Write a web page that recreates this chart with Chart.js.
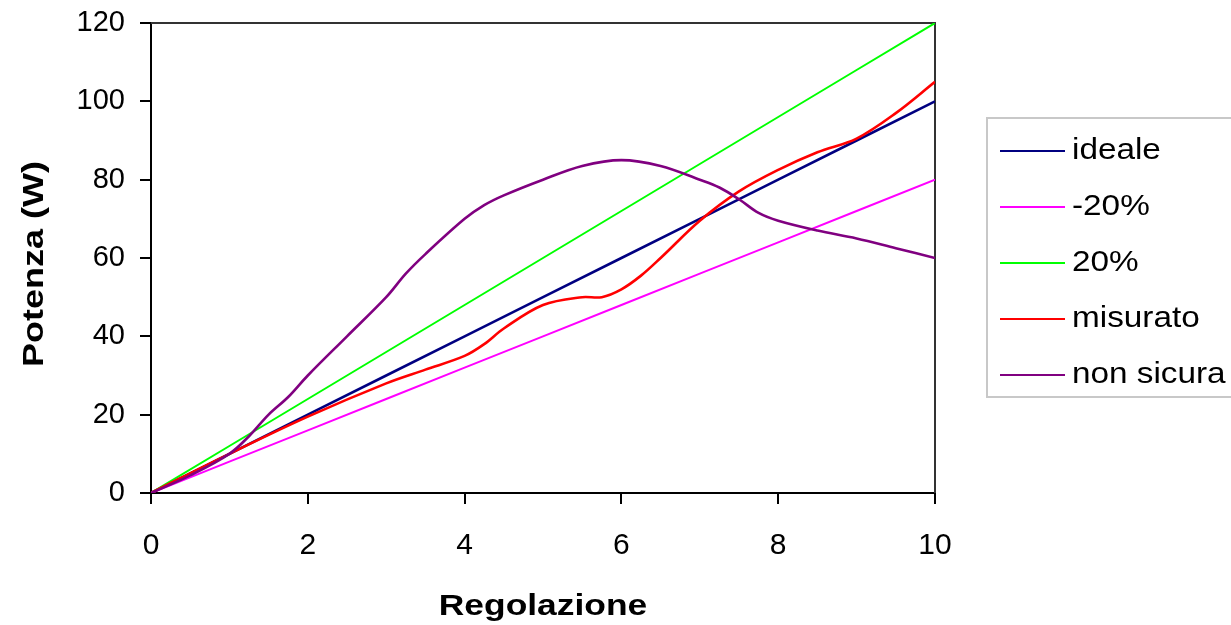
<!DOCTYPE html>
<html>
<head>
<meta charset="utf-8">
<script src="https://cdn.jsdelivr.net/npm/chart.js@4"></script>
<style>
  body { margin: 0; background: #fff; }
  canvas { display: block; }
</style>
</head>
<body>
<canvas id="grafico" width="1231" height="625"></canvas>
<script>
// Dati
var regolazione = [0, 1, 2, 3, 4, 5, 6, 7, 8, 9, 10];
var ideale = [0, 10, 20, 30, 40, 50, 60, 70, 80, 90, 100];
var meno20 = [0, 8, 16, 24, 32, 40, 48, 56, 64, 72, 80];
var piu20 = [0, 12, 24, 36, 48, 60, 72, 84, 96, 108, 120];

var misuratoX = [0, 1, 2, 3, 3.5, 4, 4.25, 4.5, 5, 5.5, 5.75, 6, 6.25, 6.5, 7, 7.5, 8, 8.5, 9, 9.5, 10];
var misuratoY = [0, 10, 19.5, 28, 31.5, 35, 38, 42, 48, 50, 50, 52, 55.5, 60, 69.5, 77, 82.5, 87, 90.5, 97, 105];

var nonSicuraX = [0, 0.5, 1, 1.25, 1.5, 1.75, 2, 2.5, 3, 3.25, 3.5, 4, 4.25, 4.5, 5, 5.5, 6, 6.5, 7, 7.25, 7.5, 7.75, 8, 8.5, 9, 9.5, 10];
var nonSicuraY = [0, 4.5, 10, 14.5, 20, 24.5, 30, 40, 50, 56, 61, 70, 73.5, 76, 80, 83.5, 85, 83.5, 80, 78, 75, 71.5, 69.5, 67, 65, 62.5, 60];

var etichette = ["ideale", "-20%", "20%", "misurato", "non sicura"];
var colori = ["#000080", "#FF00FF", "#00FF00", "#FF0000", "#800080"];

function punti(xs, ys) {
  return xs.map(function (x, i) { return { x: x, y: ys[i] }; });
}

var serie = [
  punti(regolazione, ideale),
  punti(regolazione, meno20),
  punti(regolazione, piu20),
  punti(misuratoX, misuratoY),
  punti(nonSicuraX, nonSicuraY)
];
var spessori = [2.6, 2, 2, 2.6, 2.6];

var FONT = "'Liberation Sans', Arial, sans-serif";

// testo allargato orizzontalmente (come nel grafico originale)
function testo(c, s, x, y, sx) {
  c.save();
  c.translate(x, y);
  c.scale(sx, 1);
  c.fillText(s, 0, 0);
  c.restore();
}

// Cornice, titoli degli assi e legenda disegnati a mano
var decorazioni = {
  id: "decorazioni",
  beforeDatasetsDraw: function (chart) {
    var c = chart.ctx, a = chart.chartArea;
    c.save();
    c.strokeStyle = "#333";
    c.lineWidth = 2;
    c.beginPath();
    c.moveTo(a.left, a.top);
    c.lineTo(a.right, a.top);
    c.lineTo(a.right, a.bottom);
    c.stroke();
    c.restore();
  },
  afterDraw: function (chart) {
    var c = chart.ctx, a = chart.chartArea;
    c.save();
    c.fillStyle = "#000";
    c.font = "bold 30px " + FONT;
    c.textAlign = "center";
    c.textBaseline = "alphabetic";
    testo(c, "Regolazione", (a.left + a.right) / 2, 615, 1.18);
    c.translate(43, (a.top + a.bottom) / 2 + 6);
    c.rotate(-Math.PI / 2);
    testo(c, "Potenza (W)", 0, 0, 1.2);
    c.restore();

    // legenda
    c.save();
    c.strokeStyle = "#c8c8c8";
    c.lineWidth = 2;
    c.strokeRect(987, 118, 300, 279);
    c.font = "30px " + FONT;
    c.textAlign = "left";
    c.textBaseline = "alphabetic";
    chart.data.datasets.forEach(function (ds, i) {
      var y = 151 + i * 56;
      c.strokeStyle = ds.borderColor;
      c.lineWidth = 2;
      c.beginPath();
      c.moveTo(1000, y);
      c.lineTo(1065, y);
      c.stroke();
      c.fillStyle = "#000";
      testo(c, ds.label, 1072, y + 8, 1.11);
    });
    c.restore();
  }
};

var ctx = document.getElementById("grafico").getContext("2d");
var grafico = new Chart(ctx, {
  type: "line",
  data: {
    datasets: serie.map(function (d, i) {
      return {
        label: etichette[i],
        data: d,
        borderColor: colori[i],
        backgroundColor: colori[i],
        borderWidth: spessori[i],
        pointRadius: 0,
        tension: i >= 3 ? 0.35 : 0,
        fill: false,
        order: 5 - i
      };
    })
  },
  options: {
    responsive: false,
    animation: false,
    layout: { padding: { left: 0, top: 23, right: 296, bottom: 0 } },
    plugins: {
      legend: { display: false },
      tooltip: { enabled: false }
    },
    scales: {
      x: {
        type: "linear",
        min: 0,
        max: 10,
        afterFit: function (s) {
          s.height = 132;
          s.paddingLeft = 0; s.paddingRight = 0;
        },
        ticks: {
          stepSize: 2,
          color: "#000",
          padding: 24,
          maxRotation: 0,
          font: { family: FONT, size: 30 }
        },
        grid: { drawOnChartArea: false, drawTicks: true, tickLength: 11, color: "#000", lineWidth: 2 },
        border: { color: "#000", width: 2 }
      },
      y: {
        min: 0,
        max: 120,
        afterFit: function (s) {
          s.width = 151;
          s.paddingTop = 0; s.paddingBottom = 0;
        },
        ticks: {
          stepSize: 20,
          color: "#000",
          padding: 15,
          font: { family: FONT, size: 29 }
        },
        grid: { drawOnChartArea: false, drawTicks: true, tickLength: 11, color: "#000", lineWidth: 2 },
        border: { color: "#000", width: 2 }
      }
    }
  },
  plugins: [decorazioni]
});
</script>
</body>
</html>
